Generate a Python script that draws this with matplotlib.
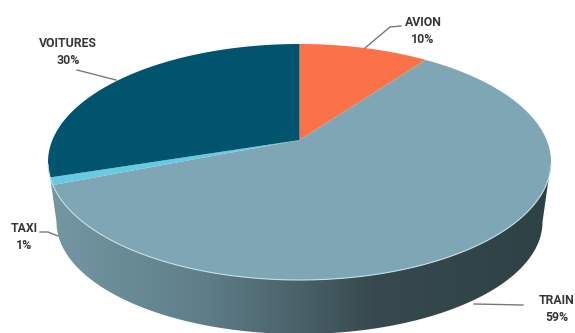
import numpy as np
import matplotlib
matplotlib.use('Agg')
import matplotlib.pyplot as plt
from matplotlib.patches import Polygon

# --- data, clockwise from the top ---
labels = ['AVION', 'TRAIN', 'TAXI', 'VOITURES']
shares = [10, 59, 1, 30]
colors = ['#fb7248', '#7ea6b4', '#66cbe2', '#00546e']

# top face ellipse, in pixels
cx, cy, rx, ry = 299.5, 162, 251.5, 118
tilt = 0.186  # perspective: moves the pie centre up from the ellipse centre
# lower rim of the side wall
cx2, cy2, rx2, ry2 = 299.5, 222, 243, 112


def project(angle):
    # angle in radians, clockwise from the top
    u, v = np.sin(angle), np.cos(angle)
    d = 1 + tilt * v
    x = u * np.sqrt(1 - tilt ** 2) / d
    y = (v + tilt) / d
    return cx + rx * x, cy - ry * y


plt.rcParams['font.family'] = ['Roboto', 'DejaVu Sans']
fig = plt.figure(figsize=(5.75, 3.33), dpi=100)
ax = fig.add_axes([0, 0, 1, 1])
ax.axis('off')

# --- side wall with gradient ---
t = np.linspace(0, np.pi, 200)
top_x = cx + rx * np.cos(t)
top_y = cy + ry * np.sin(t)
low_x = cx2 + rx2 * np.cos(t)
low_y = cy2 + ry2 * np.sin(t)
wall = np.column_stack([np.r_[low_x, top_x[::-1]], np.r_[low_y, top_y[::-1]]])
grad = matplotlib.colors.LinearSegmentedColormap.from_list(
    'wall', [(0, '#7497a3'), (0.3, '#5f808a'), (0.5, '#4a6169'), (0.65, '#37494e'), (1, '#2e4246')])
img = ax.imshow(np.linspace(0, 1, 256)[None, :], cmap=grad, aspect='auto',
                extent=[48, 551, 333, 0], zorder=1)
ax.set_xlim(0, 575)
ax.set_ylim(333, 0)
img.set_clip_path(Polygon(wall, transform=ax.transData))

# --- top face ---
start = 0
px, py = cx, cy - ry * tilt
for share, color in zip(shares, colors):
    end = start + share
    a = np.linspace(start, end, max(share * 6, 12)) / 100 * 2 * np.pi
    x, y = project(a)
    ax.fill(np.r_[px, x], np.r_[py, y], color=color, lw=0, zorder=2)
    start = end

# light rim on the front of the pie
t2 = np.linspace(0.02, np.pi - 0.02, 200)
ax.plot(cx + rx * np.cos(t2), cy + ry * np.sin(t2), color='#bfe0e8', lw=0.8, zorder=3)

# --- leader lines and labels ---
line_color = '#77797a'
ax.plot([77, 116], [70, 80], color=line_color, lw=1, zorder=4)
ax.plot([365, 390, 401], [48, 27, 26], color=line_color, lw=1, zorder=4)
ax.plot([40, 48, 58], [232, 232, 236], color=line_color, lw=1, zorder=4)
ax.plot([474, 523], [304, 305], color=line_color, lw=1, zorder=4)

text_pos = [(423, 31), (557, 309), (24, 237), (68, 52)]
for label, share, (tx, ty) in zip(labels, shares, text_pos):
    ax.text(tx, ty, f'{label}\n{share}%', ha='center', va='center', fontsize=8.8,
            fontweight='bold', color='#35383a', linespacing=1.42, zorder=5)

fig.savefig('out.png', dpi=100)
